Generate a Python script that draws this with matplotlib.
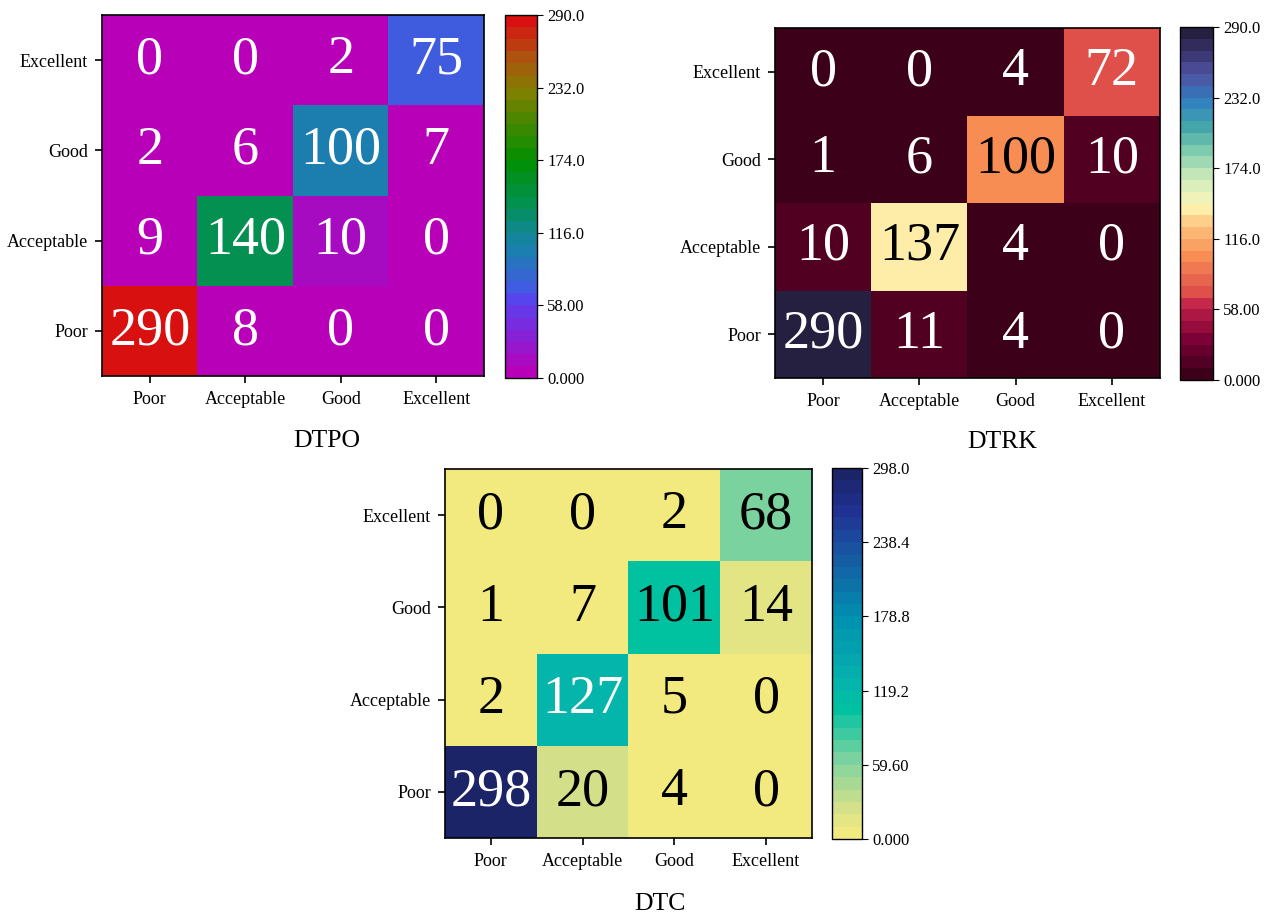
import numpy as np
import matplotlib
matplotlib.use('Agg')
import matplotlib.pyplot as plt
from matplotlib.colors import LinearSegmentedColormap
from matplotlib.ticker import FuncFormatter

plt.rcParams['font.family'] = ['Liberation Serif', 'DejaVu Serif']

# class labels, bottom row first (Poor at the bottom of each matrix)
labels = ['Poor', 'Acceptable', 'Good', 'Excellent']

# confusion matrices, rows listed from Poor (bottom) to Excellent (top)
dtpo = [[290, 8, 0, 0],
        [9, 140, 10, 0],
        [2, 6, 100, 7],
        [0, 0, 2, 75]]
dtrk = [[290, 11, 4, 0],
        [10, 137, 4, 0],
        [1, 6, 100, 10],
        [0, 0, 4, 72]]
dtc = [[298, 20, 4, 0],
       [2, 127, 5, 0],
       [1, 7, 101, 14],
       [0, 0, 2, 68]]
titles = ['DTPO', 'DTRK', 'DTC']


def make_cmap(name, nodes):
    # banded colormap with 30 levels
    return LinearSegmentedColormap.from_list(name, nodes, N=30)


cmap_po = make_cmap('po', [(0.0, '#b800b8'), (0.2, '#5a40f0'), (0.241, '#405ce0'),
                           (0.345, '#1b7faf'), (0.4, '#108890'), (0.483, '#039150'),
                           (0.6, '#009000'), (0.8, '#808000'), (0.9, '#b05010'),
                           (1.0, '#d81010')])
cmap_rk = make_cmap('rk', [(0.0, '#3d0019'), (0.1, '#7a0035'), (0.2, '#c0204a'),
                           (0.241, '#e0504a'), (0.345, '#f88e54'), (0.43, '#fdbf7a'),
                           (0.483, '#fdeeaa'), (0.53, '#eaf5c0'), (0.58, '#c8e8b8'),
                           (0.65, '#80ceb0'), (0.72, '#45a8a8'), (0.8, '#3080c0'),
                           (0.88, '#5050a0'), (0.94, '#3a3570'), (1.0, '#252040')])
cmap_c = make_cmap('c', [(0.0, '#f3ea7f'), (0.069, '#d4e08a'), (0.207, '#7ad2a0'),
                         (0.345, '#00c2a0'), (0.414, '#04b5ab'),
                         (0.6, '#0090b0'), (0.8, '#1a50a0'), (0.9, '#203090'),
                         (1.0, '#1c2468')])


def luminance(rgb):
    c = np.array(rgb[:3])
    c = np.where(c <= 0.03928, c / 12.92, ((c + 0.055) / 1.055) ** 2.4)
    return 0.2126 * c[0] + 0.7152 * c[1] + 0.0722 * c[2]


W, H = 1271, 917
fig = plt.figure(figsize=(W / 100, H / 100), dpi=100)


def px_axes(x0, y0, x1, y1):
    return fig.add_axes([x0 / W, 1 - y1 / H, (x1 - x0) / W, (y1 - y0) / H])


def fmt(v, pos):
    return format(v, '#.4g')


def draw(data, cmap, box, cbox, title, title_xy):
    data = np.array(data)
    vmax = data.max()
    ax = px_axes(*box)
    im = ax.imshow(data, cmap=cmap, vmin=0, vmax=vmax, origin='lower', aspect='auto')
    for i in range(data.shape[0]):
        for j in range(data.shape[1]):
            col = cmap(float(data[i, j]) / vmax)
            tc = 'black' if luminance(col) > 0.37 else 'white'
            ax.text(j, i, str(data[i, j]), ha='center', va='center',
                    fontsize=39, color=tc)
    ax.set_xticks(range(4))
    ax.set_yticks(range(4))
    ax.set_xticklabels(labels, fontsize=13)
    ax.set_yticklabels(labels, fontsize=13)
    ax.tick_params(length=5, width=1.2, pad=5)
    ax.tick_params(axis='x', pad=6)
    for s in ax.spines.values():
        s.set_linewidth(1.2)
    cax = px_axes(*cbox)
    cb = fig.colorbar(im, cax=cax, ticks=np.linspace(0, vmax, 6),
                      format=FuncFormatter(fmt))
    cb.ax.tick_params(labelsize=12, length=4, width=0.8)
    cb.outline.set_linewidth(1.0)
    fig.text(title_xy[0] / W, 1 - title_xy[1] / H, title, ha='center',
             va='center', fontsize=18.5)


draw(dtpo, cmap_po, (102, 15, 484, 376), (505, 15, 537, 378), titles[0], (327, 441))
draw(dtrk, cmap_rk, (775, 28, 1160, 378), (1180, 27, 1213, 380), titles[1], (1002, 442))
draw(dtc, cmap_c, (445, 469, 812, 838), (832, 468, 862, 839), titles[2], (660, 904))

fig.savefig('out.png', dpi=100)
